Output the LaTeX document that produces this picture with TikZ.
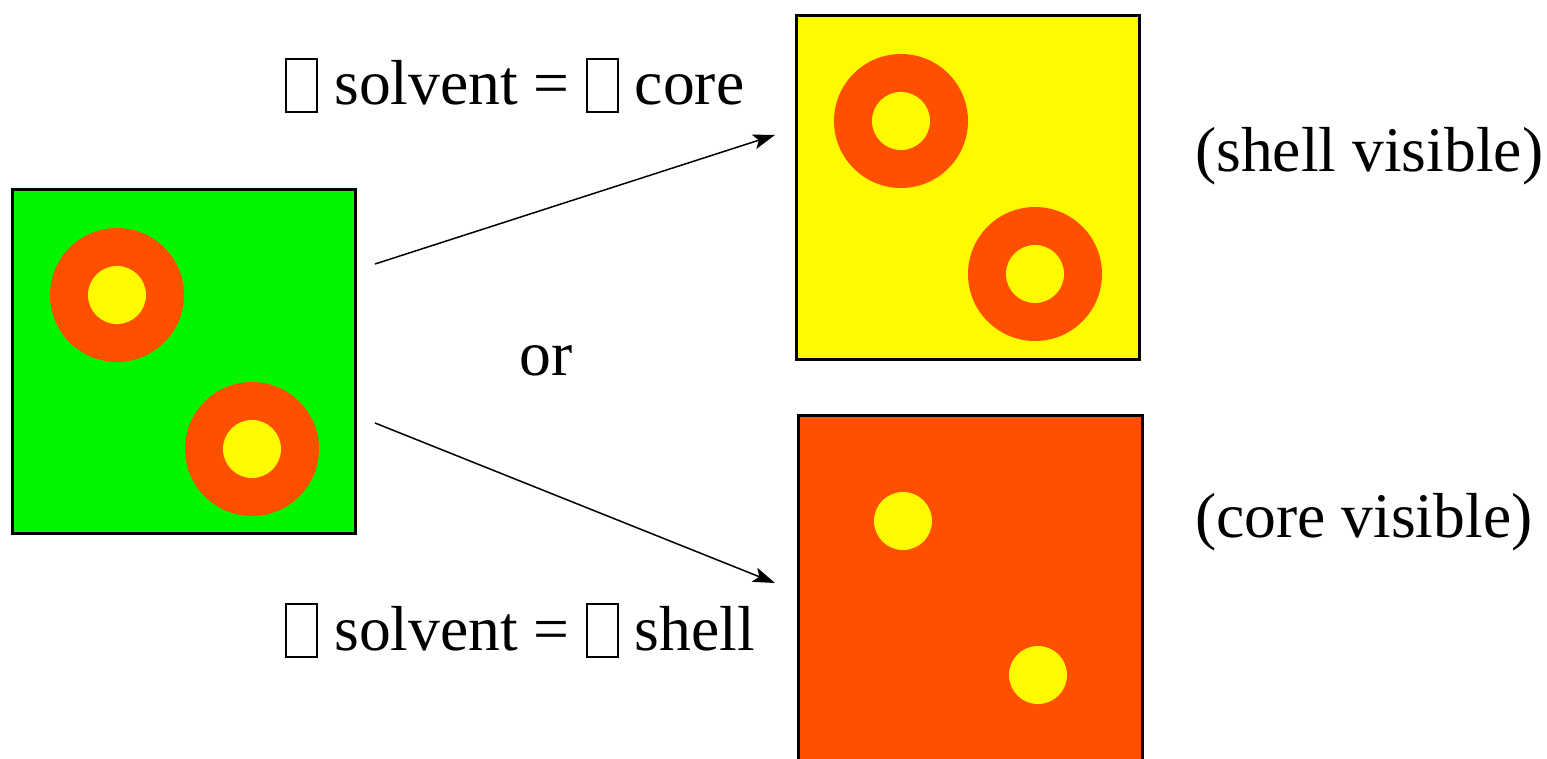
\documentclass[tikz,border=0pt]{standalone}
\usepackage{fontspec}
\setmainfont{Liberation Serif}
\usetikzlibrary{arrows.meta}
\definecolor{grn}{RGB}{0,245,0}
\definecolor{ylw}{RGB}{255,250,0}
\definecolor{org}{RGB}{255,80,0}
\newcommand\tofubox{\raisebox{-0.1em}{\setlength\fboxsep{0pt}\setlength\fboxrule{2pt}\fbox{\rule{0pt}{0.8em}\rule{0.46em}{0pt}}}}
\tikzset{
  panel/.style={draw=black, line width=3pt},
  shellc/.style={fill=org},
  corec/.style={fill=ylw},
  lbl/.style={inner sep=0pt, anchor=base west, font=\fontsize{63.6pt}{70pt}\selectfont},
  arr/.style={line width=1.5pt, -{Stealth[length=22pt,width=15pt,inset=5pt]}}
}
\begin{document}
\begin{tikzpicture}[x=1pt,y=-1pt]
\useasboundingbox (0,0) rectangle (1547,759);
% left panel
\draw[panel, fill=grn] (12.5,189.5) rectangle (355.5,533.5);
\fill[shellc] (117,295) circle[radius=67pt];
\fill[corec] (117,295) circle[radius=29pt];
\fill[shellc] (252,449) circle[radius=67pt];
\fill[corec] (252,449) circle[radius=29pt];
% top right panel
\draw[panel, fill=ylw] (796.5,15.5) rectangle (1139.5,359.5);
\fill[shellc] (901,121) circle[radius=67pt];
\fill[corec] (901,121) circle[radius=29pt];
\fill[shellc] (1035,274) circle[radius=67pt];
\fill[corec] (1035,274) circle[radius=29pt];
% bottom right panel
\draw[panel, fill=org] (798.5,415.5) rectangle (1142,800);
\fill[corec] (903,521) circle[radius=29pt];
\fill[corec] (1038,675) circle[radius=29pt];
% arrows
\coordinate (s1) at (375,264);
\coordinate (e1) at (775,135);
\coordinate (s2) at (375,423);
\coordinate (e2) at (775,583);
\draw[arr] (s1) -- (e1);
\draw[arr] (s2) -- (e2);
% labels
\node[lbl] (t1) at (285,105) {\tofubox\ solvent = \tofubox\ core};
\node[lbl] (t2) at (285,650) {\tofubox\ solvent = \tofubox\ shell};
\node[lbl] (orl) at (519,375) {or};
\node[lbl] (v1) at (1195,172) {(shell visible)};
\node[lbl] (v2) at (1195,537) {(core visible)};
\end{tikzpicture}
\end{document}
